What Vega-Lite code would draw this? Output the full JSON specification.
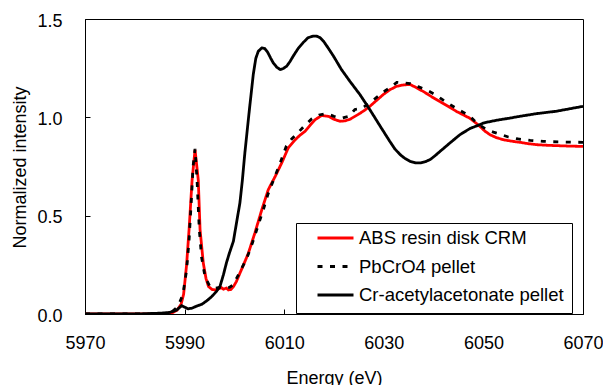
{
  "$schema": "https://vega.github.io/schema/vega-lite/v6.json",
  "width": 498,
  "height": 295,
  "autosize": {"type": "none"},
  "padding": {"left": 85, "top": 19, "right": 20, "bottom": 71},
  "background": "white",
  "config": {
    "font": "Liberation Sans",
    "view": {"stroke": "black", "strokeWidth": 1},
    "axis": {"grid": false, "domainColor": "black", "tickColor": "black", "labelColor": "black", "titleColor": "black", "labelFont": "Liberation Sans", "titleFont": "Liberation Sans", "labelFontSize": 18, "titleFontSize": 18, "titleFontWeight": "normal", "tickSize": -5, "tickWidth": 1, "domainWidth": 1},
    "legend": {"labelFont": "Liberation Sans", "labelFontSize": 18.5, "labelColor": "black", "labelLimit": 400}
  },
  "data": {"values": [
    {"E":5970,"I":0,"s":"ABS resin disk CRM"},
    {"E":5975,"I":0,"s":"ABS resin disk CRM"},
    {"E":5980,"I":0,"s":"ABS resin disk CRM"},
    {"E":5984,"I":0,"s":"ABS resin disk CRM"},
    {"E":5986,"I":0.002,"s":"ABS resin disk CRM"},
    {"E":5987.5,"I":0.006,"s":"ABS resin disk CRM"},
    {"E":5988.5,"I":0.02,"s":"ABS resin disk CRM"},
    {"E":5989.3,"I":0.05,"s":"ABS resin disk CRM"},
    {"E":5989.8,"I":0.1,"s":"ABS resin disk CRM"},
    {"E":5990.4,"I":0.25,"s":"ABS resin disk CRM"},
    {"E":5990.9,"I":0.43,"s":"ABS resin disk CRM"},
    {"E":5991.5,"I":0.68,"s":"ABS resin disk CRM"},
    {"E":5992.1,"I":0.835,"s":"ABS resin disk CRM"},
    {"E":5992.75,"I":0.68,"s":"ABS resin disk CRM"},
    {"E":5993.1,"I":0.43,"s":"ABS resin disk CRM"},
    {"E":5993.75,"I":0.26,"s":"ABS resin disk CRM"},
    {"E":5994.3,"I":0.18,"s":"ABS resin disk CRM"},
    {"E":5994.8,"I":0.14,"s":"ABS resin disk CRM"},
    {"E":5995.5,"I":0.125,"s":"ABS resin disk CRM"},
    {"E":5996.1,"I":0.122,"s":"ABS resin disk CRM"},
    {"E":5996.8,"I":0.128,"s":"ABS resin disk CRM"},
    {"E":5997.4,"I":0.134,"s":"ABS resin disk CRM"},
    {"E":5997.8,"I":0.126,"s":"ABS resin disk CRM"},
    {"E":5998.4,"I":0.132,"s":"ABS resin disk CRM"},
    {"E":5998.8,"I":0.122,"s":"ABS resin disk CRM"},
    {"E":5999.3,"I":0.125,"s":"ABS resin disk CRM"},
    {"E":5999.8,"I":0.139,"s":"ABS resin disk CRM"},
    {"E":6000.4,"I":0.165,"s":"ABS resin disk CRM"},
    {"E":6001.1,"I":0.207,"s":"ABS resin disk CRM"},
    {"E":6002.0,"I":0.26,"s":"ABS resin disk CRM"},
    {"E":6002.8,"I":0.309,"s":"ABS resin disk CRM"},
    {"E":6004.1,"I":0.411,"s":"ABS resin disk CRM"},
    {"E":6005.5,"I":0.53,"s":"ABS resin disk CRM"},
    {"E":6006.8,"I":0.632,"s":"ABS resin disk CRM"},
    {"E":6008.2,"I":0.7,"s":"ABS resin disk CRM"},
    {"E":6009.5,"I":0.768,"s":"ABS resin disk CRM"},
    {"E":6010.8,"I":0.844,"s":"ABS resin disk CRM"},
    {"E":6012.2,"I":0.886,"s":"ABS resin disk CRM"},
    {"E":6013.2,"I":0.91,"s":"ABS resin disk CRM"},
    {"E":6014.2,"I":0.929,"s":"ABS resin disk CRM"},
    {"E":6015.2,"I":0.96,"s":"ABS resin disk CRM"},
    {"E":6016.2,"I":0.988,"s":"ABS resin disk CRM"},
    {"E":6017.5,"I":1.009,"s":"ABS resin disk CRM"},
    {"E":6018.9,"I":1.005,"s":"ABS resin disk CRM"},
    {"E":6020.0,"I":0.99,"s":"ABS resin disk CRM"},
    {"E":6021.2,"I":0.98,"s":"ABS resin disk CRM"},
    {"E":6022.2,"I":0.982,"s":"ABS resin disk CRM"},
    {"E":6023.2,"I":0.99,"s":"ABS resin disk CRM"},
    {"E":6024.2,"I":1.005,"s":"ABS resin disk CRM"},
    {"E":6025.2,"I":1.02,"s":"ABS resin disk CRM"},
    {"E":6026.2,"I":1.037,"s":"ABS resin disk CRM"},
    {"E":6027.2,"I":1.056,"s":"ABS resin disk CRM"},
    {"E":6028.5,"I":1.085,"s":"ABS resin disk CRM"},
    {"E":6029.9,"I":1.116,"s":"ABS resin disk CRM"},
    {"E":6031.2,"I":1.14,"s":"ABS resin disk CRM"},
    {"E":6032.6,"I":1.158,"s":"ABS resin disk CRM"},
    {"E":6034.0,"I":1.165,"s":"ABS resin disk CRM"},
    {"E":6035.3,"I":1.167,"s":"ABS resin disk CRM"},
    {"E":6036.6,"I":1.15,"s":"ABS resin disk CRM"},
    {"E":6037.9,"I":1.132,"s":"ABS resin disk CRM"},
    {"E":6039.6,"I":1.105,"s":"ABS resin disk CRM"},
    {"E":6041.3,"I":1.08,"s":"ABS resin disk CRM"},
    {"E":6043.0,"I":1.055,"s":"ABS resin disk CRM"},
    {"E":6044.6,"I":1.03,"s":"ABS resin disk CRM"},
    {"E":6046.0,"I":1.012,"s":"ABS resin disk CRM"},
    {"E":6047.3,"I":0.995,"s":"ABS resin disk CRM"},
    {"E":6048.3,"I":0.975,"s":"ABS resin disk CRM"},
    {"E":6049.3,"I":0.954,"s":"ABS resin disk CRM"},
    {"E":6050.3,"I":0.93,"s":"ABS resin disk CRM"},
    {"E":6051.3,"I":0.912,"s":"ABS resin disk CRM"},
    {"E":6052.6,"I":0.897,"s":"ABS resin disk CRM"},
    {"E":6054.0,"I":0.886,"s":"ABS resin disk CRM"},
    {"E":6055.6,"I":0.879,"s":"ABS resin disk CRM"},
    {"E":6057.3,"I":0.873,"s":"ABS resin disk CRM"},
    {"E":6059.0,"I":0.866,"s":"ABS resin disk CRM"},
    {"E":6060.7,"I":0.861,"s":"ABS resin disk CRM"},
    {"E":6062.7,"I":0.858,"s":"ABS resin disk CRM"},
    {"E":6064.7,"I":0.856,"s":"ABS resin disk CRM"},
    {"E":6067,"I":0.854,"s":"ABS resin disk CRM"},
    {"E":6070,"I":0.852,"s":"ABS resin disk CRM"},

    {"E":5970,"I":0,"s":"PbCrO4 pellet"},
    {"E":5984,"I":0,"s":"PbCrO4 pellet"},
    {"E":5986,"I":0.004,"s":"PbCrO4 pellet"},
    {"E":5987.5,"I":0.012,"s":"PbCrO4 pellet"},
    {"E":5988.5,"I":0.035,"s":"PbCrO4 pellet"},
    {"E":5989.2,"I":0.07,"s":"PbCrO4 pellet"},
    {"E":5989.7,"I":0.105,"s":"PbCrO4 pellet"},
    {"E":5990.4,"I":0.224,"s":"PbCrO4 pellet"},
    {"E":5990.9,"I":0.377,"s":"PbCrO4 pellet"},
    {"E":5991.4,"I":0.6,"s":"PbCrO4 pellet"},
    {"E":5991.7,"I":0.75,"s":"PbCrO4 pellet"},
    {"E":5992.1,"I":0.84,"s":"PbCrO4 pellet"},
    {"E":5992.5,"I":0.68,"s":"PbCrO4 pellet"},
    {"E":5992.95,"I":0.43,"s":"PbCrO4 pellet"},
    {"E":5993.4,"I":0.29,"s":"PbCrO4 pellet"},
    {"E":5994.1,"I":0.19,"s":"PbCrO4 pellet"},
    {"E":5995.1,"I":0.139,"s":"PbCrO4 pellet"},
    {"E":5996,"I":0.13,"s":"PbCrO4 pellet"},
    {"E":5997,"I":0.135,"s":"PbCrO4 pellet"},
    {"E":5998,"I":0.13,"s":"PbCrO4 pellet"},
    {"E":5999,"I":0.135,"s":"PbCrO4 pellet"},
    {"E":5999.8,"I":0.15,"s":"PbCrO4 pellet"},
    {"E":6000.8,"I":0.199,"s":"PbCrO4 pellet"},
    {"E":6002.5,"I":0.284,"s":"PbCrO4 pellet"},
    {"E":6003.6,"I":0.36,"s":"PbCrO4 pellet"},
    {"E":6004.8,"I":0.453,"s":"PbCrO4 pellet"},
    {"E":6005.8,"I":0.53,"s":"PbCrO4 pellet"},
    {"E":6006.7,"I":0.606,"s":"PbCrO4 pellet"},
    {"E":6008,"I":0.691,"s":"PbCrO4 pellet"},
    {"E":6009.2,"I":0.768,"s":"PbCrO4 pellet"},
    {"E":6010.4,"I":0.852,"s":"PbCrO4 pellet"},
    {"E":6011.5,"I":0.89,"s":"PbCrO4 pellet"},
    {"E":6012.7,"I":0.92,"s":"PbCrO4 pellet"},
    {"E":6014,"I":0.955,"s":"PbCrO4 pellet"},
    {"E":6015.5,"I":0.992,"s":"PbCrO4 pellet"},
    {"E":6017,"I":1.012,"s":"PbCrO4 pellet"},
    {"E":6018.5,"I":1.019,"s":"PbCrO4 pellet"},
    {"E":6020,"I":1.005,"s":"PbCrO4 pellet"},
    {"E":6021.5,"I":0.995,"s":"PbCrO4 pellet"},
    {"E":6023,"I":1.005,"s":"PbCrO4 pellet"},
    {"E":6024.2,"I":1.04,"s":"PbCrO4 pellet"},
    {"E":6025.5,"I":1.045,"s":"PbCrO4 pellet"},
    {"E":6027,"I":1.07,"s":"PbCrO4 pellet"},
    {"E":6028.5,"I":1.1,"s":"PbCrO4 pellet"},
    {"E":6030,"I":1.13,"s":"PbCrO4 pellet"},
    {"E":6031.5,"I":1.155,"s":"PbCrO4 pellet"},
    {"E":6032.6,"I":1.178,"s":"PbCrO4 pellet"},
    {"E":6034,"I":1.175,"s":"PbCrO4 pellet"},
    {"E":6035.3,"I":1.172,"s":"PbCrO4 pellet"},
    {"E":6037,"I":1.155,"s":"PbCrO4 pellet"},
    {"E":6038.5,"I":1.14,"s":"PbCrO4 pellet"},
    {"E":6040,"I":1.12,"s":"PbCrO4 pellet"},
    {"E":6041.5,"I":1.095,"s":"PbCrO4 pellet"},
    {"E":6043,"I":1.07,"s":"PbCrO4 pellet"},
    {"E":6044.6,"I":1.045,"s":"PbCrO4 pellet"},
    {"E":6046,"I":1.025,"s":"PbCrO4 pellet"},
    {"E":6047.3,"I":1.005,"s":"PbCrO4 pellet"},
    {"E":6048.3,"I":0.98,"s":"PbCrO4 pellet"},
    {"E":6049.3,"I":0.96,"s":"PbCrO4 pellet"},
    {"E":6050.5,"I":0.94,"s":"PbCrO4 pellet"},
    {"E":6052,"I":0.925,"s":"PbCrO4 pellet"},
    {"E":6053.3,"I":0.915,"s":"PbCrO4 pellet"},
    {"E":6055,"I":0.9,"s":"PbCrO4 pellet"},
    {"E":6057,"I":0.89,"s":"PbCrO4 pellet"},
    {"E":6059.4,"I":0.883,"s":"PbCrO4 pellet"},
    {"E":6062,"I":0.878,"s":"PbCrO4 pellet"},
    {"E":6065,"I":0.875,"s":"PbCrO4 pellet"},
    {"E":6070,"I":0.873,"s":"PbCrO4 pellet"},

    {"E":5970,"I":0,"s":"Cr-acetylacetonate pellet"},
    {"E":5980,"I":0,"s":"Cr-acetylacetonate pellet"},
    {"E":5982.7,"I":0.002,"s":"Cr-acetylacetonate pellet"},
    {"E":5985,"I":0.004,"s":"Cr-acetylacetonate pellet"},
    {"E":5987,"I":0.008,"s":"Cr-acetylacetonate pellet"},
    {"E":5988.4,"I":0.02,"s":"Cr-acetylacetonate pellet"},
    {"E":5989.4,"I":0.042,"s":"Cr-acetylacetonate pellet"},
    {"E":5990.0,"I":0.035,"s":"Cr-acetylacetonate pellet"},
    {"E":5990.7,"I":0.026,"s":"Cr-acetylacetonate pellet"},
    {"E":5991.5,"I":0.03,"s":"Cr-acetylacetonate pellet"},
    {"E":5992.4,"I":0.04,"s":"Cr-acetylacetonate pellet"},
    {"E":5993.5,"I":0.05,"s":"Cr-acetylacetonate pellet"},
    {"E":5994.6,"I":0.07,"s":"Cr-acetylacetonate pellet"},
    {"E":5995.5,"I":0.09,"s":"Cr-acetylacetonate pellet"},
    {"E":5996.4,"I":0.115,"s":"Cr-acetylacetonate pellet"},
    {"E":5997.1,"I":0.14,"s":"Cr-acetylacetonate pellet"},
    {"E":5997.8,"I":0.2,"s":"Cr-acetylacetonate pellet"},
    {"E":5998.4,"I":0.26,"s":"Cr-acetylacetonate pellet"},
    {"E":5999.0,"I":0.31,"s":"Cr-acetylacetonate pellet"},
    {"E":5999.8,"I":0.37,"s":"Cr-acetylacetonate pellet"},
    {"E":6000.4,"I":0.46,"s":"Cr-acetylacetonate pellet"},
    {"E":6001.1,"I":0.564,"s":"Cr-acetylacetonate pellet"},
    {"E":6001.6,"I":0.68,"s":"Cr-acetylacetonate pellet"},
    {"E":6002.1,"I":0.819,"s":"Cr-acetylacetonate pellet"},
    {"E":6002.6,"I":0.94,"s":"Cr-acetylacetonate pellet"},
    {"E":6003.1,"I":1.06,"s":"Cr-acetylacetonate pellet"},
    {"E":6003.8,"I":1.22,"s":"Cr-acetylacetonate pellet"},
    {"E":6004.3,"I":1.3,"s":"Cr-acetylacetonate pellet"},
    {"E":6004.8,"I":1.336,"s":"Cr-acetylacetonate pellet"},
    {"E":6005.5,"I":1.353,"s":"Cr-acetylacetonate pellet"},
    {"E":6006.1,"I":1.35,"s":"Cr-acetylacetonate pellet"},
    {"E":6006.7,"I":1.33,"s":"Cr-acetylacetonate pellet"},
    {"E":6007.3,"I":1.3,"s":"Cr-acetylacetonate pellet"},
    {"E":6007.8,"I":1.277,"s":"Cr-acetylacetonate pellet"},
    {"E":6008.5,"I":1.255,"s":"Cr-acetylacetonate pellet"},
    {"E":6009.2,"I":1.243,"s":"Cr-acetylacetonate pellet"},
    {"E":6009.8,"I":1.248,"s":"Cr-acetylacetonate pellet"},
    {"E":6010.5,"I":1.26,"s":"Cr-acetylacetonate pellet"},
    {"E":6011.2,"I":1.285,"s":"Cr-acetylacetonate pellet"},
    {"E":6011.8,"I":1.311,"s":"Cr-acetylacetonate pellet"},
    {"E":6012.8,"I":1.35,"s":"Cr-acetylacetonate pellet"},
    {"E":6013.8,"I":1.38,"s":"Cr-acetylacetonate pellet"},
    {"E":6014.8,"I":1.405,"s":"Cr-acetylacetonate pellet"},
    {"E":6015.8,"I":1.413,"s":"Cr-acetylacetonate pellet"},
    {"E":6016.5,"I":1.413,"s":"Cr-acetylacetonate pellet"},
    {"E":6017.2,"I":1.405,"s":"Cr-acetylacetonate pellet"},
    {"E":6017.9,"I":1.387,"s":"Cr-acetylacetonate pellet"},
    {"E":6018.9,"I":1.35,"s":"Cr-acetylacetonate pellet"},
    {"E":6019.9,"I":1.311,"s":"Cr-acetylacetonate pellet"},
    {"E":6021.5,"I":1.243,"s":"Cr-acetylacetonate pellet"},
    {"E":6023.2,"I":1.183,"s":"Cr-acetylacetonate pellet"},
    {"E":6025.2,"I":1.116,"s":"Cr-acetylacetonate pellet"},
    {"E":6027.2,"I":1.039,"s":"Cr-acetylacetonate pellet"},
    {"E":6029.2,"I":0.958,"s":"Cr-acetylacetonate pellet"},
    {"E":6031.2,"I":0.878,"s":"Cr-acetylacetonate pellet"},
    {"E":6032.2,"I":0.84,"s":"Cr-acetylacetonate pellet"},
    {"E":6033.3,"I":0.81,"s":"Cr-acetylacetonate pellet"},
    {"E":6034.3,"I":0.79,"s":"Cr-acetylacetonate pellet"},
    {"E":6035.3,"I":0.776,"s":"Cr-acetylacetonate pellet"},
    {"E":6036.3,"I":0.769,"s":"Cr-acetylacetonate pellet"},
    {"E":6037.3,"I":0.768,"s":"Cr-acetylacetonate pellet"},
    {"E":6038.3,"I":0.774,"s":"Cr-acetylacetonate pellet"},
    {"E":6039.3,"I":0.785,"s":"Cr-acetylacetonate pellet"},
    {"E":6040.3,"I":0.805,"s":"Cr-acetylacetonate pellet"},
    {"E":6041.3,"I":0.827,"s":"Cr-acetylacetonate pellet"},
    {"E":6043.3,"I":0.87,"s":"Cr-acetylacetonate pellet"},
    {"E":6045.3,"I":0.912,"s":"Cr-acetylacetonate pellet"},
    {"E":6047.3,"I":0.943,"s":"Cr-acetylacetonate pellet"},
    {"E":6049.3,"I":0.963,"s":"Cr-acetylacetonate pellet"},
    {"E":6050,"I":0.971,"s":"Cr-acetylacetonate pellet"},
    {"E":6051.6,"I":0.98,"s":"Cr-acetylacetonate pellet"},
    {"E":6053.3,"I":0.988,"s":"Cr-acetylacetonate pellet"},
    {"E":6055.3,"I":0.996,"s":"Cr-acetylacetonate pellet"},
    {"E":6057.3,"I":1.005,"s":"Cr-acetylacetonate pellet"},
    {"E":6059,"I":1.012,"s":"Cr-acetylacetonate pellet"},
    {"E":6060.7,"I":1.019,"s":"Cr-acetylacetonate pellet"},
    {"E":6062.7,"I":1.025,"s":"Cr-acetylacetonate pellet"},
    {"E":6064.7,"I":1.031,"s":"Cr-acetylacetonate pellet"},
    {"E":6067,"I":1.042,"s":"Cr-acetylacetonate pellet"},
    {"E":6070,"I":1.056,"s":"Cr-acetylacetonate pellet"}
  ]},
  "mark": {"type": "line", "strokeWidth": 2.8, "clip": true},
  "encoding": {
    "x": {"field": "E", "type": "quantitative",
      "scale": {"domain": [5970, 6070], "nice": false, "zero": false},
      "axis": {"title": "Energy (eV)", "values": [5970, 5990, 6010, 6030, 6050, 6070], "format": "d", "labelPadding": 39, "labelBaseline": "alphabetic", "titleX": 249, "titleY": 69, "titleBaseline": "alphabetic", "titleAnchor": null, "labelFlush": false}},
    "y": {"field": "I", "type": "quantitative",
      "scale": {"domain": [0, 1.5], "nice": false},
      "axis": {"title": "Normalized intensity", "values": [0, 0.5, 1, 1.5], "format": ".1f", "labelPadding": 28, "labelOffset": 2, "labelBaseline": "middle", "titleX": -65, "titleY": 148, "titleAngle": -90, "titleAlign": "center", "titleBaseline": "middle", "labelFlush": false}},
    "color": {"field": "s", "type": "nominal",
      "scale": {"domain": ["ABS resin disk CRM", "PbCrO4 pellet", "Cr-acetylacetonate pellet"], "range": ["#ff0000", "#000000", "#000000"]},
      "legend": {"title": null, "orient": "none", "legendX": 211, "legendY": 204, "strokeColor": "black", "fillColor": "white", "padding": 8, "symbolOffset": 12, "symbolType": "stroke", "symbolSize": 1296, "symbolStrokeWidth": 3, "clipHeight": 14, "rowPadding": 9.5, "labelOffset": 4, "labelLimit": 400}},
    "strokeDash": {"field": "s", "type": "nominal",
      "scale": {"domain": ["ABS resin disk CRM", "PbCrO4 pellet", "Cr-acetylacetonate pellet"], "range": [[1, 0], [5, 7.5], [1, 0]]},
      "legend": {"title": null, "orient": "none", "legendX": 211, "legendY": 204, "strokeColor": "black", "fillColor": "white", "padding": 8, "symbolOffset": 12, "symbolType": "stroke", "symbolSize": 1296, "symbolStrokeWidth": 3, "clipHeight": 14, "rowPadding": 9.5, "labelOffset": 4, "labelLimit": 400}}
  }
}
